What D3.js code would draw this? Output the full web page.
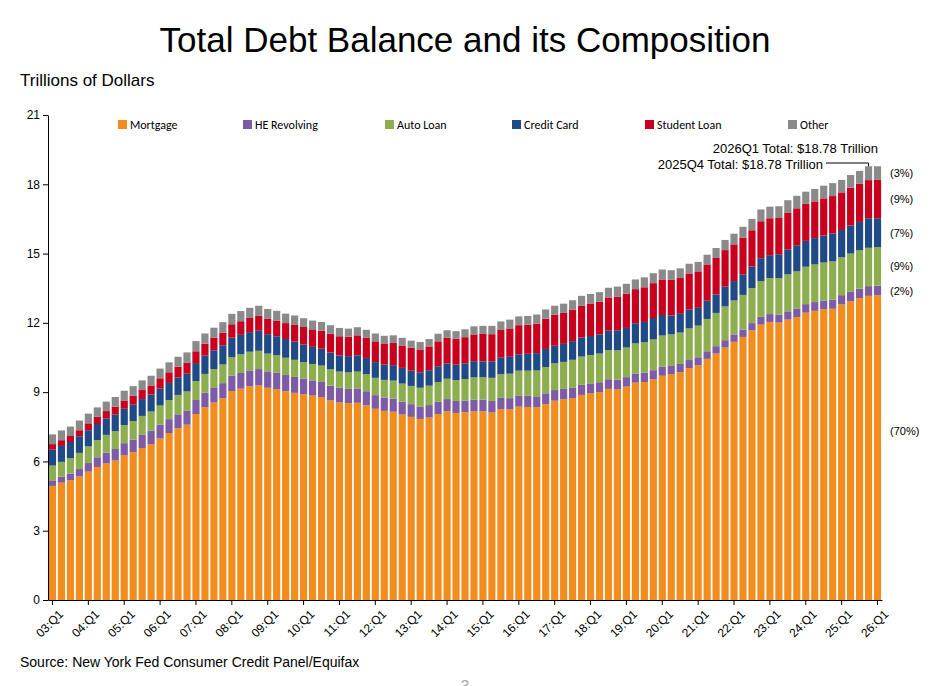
<!DOCTYPE html>
<html>
<head>
<meta charset="utf-8">
<script src="https://cdn.jsdelivr.net/npm/d3@7"></script>
<style>
  body { margin: 0; background: #fff; font-family: Arial, "Liberation Sans", sans-serif; }
</style>
</head>
<body>
<svg id="chart" width="935" height="686"></svg>
<script>
// Quarterly balances, trillions of dollars, 03:Q1 .. 26:Q1
const years = d3.range(2003, 2027);
const quarters = [];
years.forEach(y => [1, 2, 3, 4].forEach(q => { if (y < 2026 || q === 1) quarters.push(`${String(y).slice(2)}:Q${q}`); }));

const mortgage = [
  4.94,5.08,5.18,5.35, 5.56,5.76,5.91,6.04, 6.26,6.40,6.58,6.75, 6.99,7.23,7.44,7.59,
  8.05,8.35,8.55,8.74, 9.05,9.15,9.25,9.29, 9.19,9.13,9.04,8.97, 8.91,8.85,8.79,8.64,
  8.55,8.52,8.54,8.43, 8.28,8.19,8.15,8.03, 7.93,7.84,7.90,8.05, 8.17,8.10,8.13,8.17,
  8.17,8.12,8.26,8.25, 8.37,8.36,8.35,8.48, 8.63,8.69,8.74,8.88, 8.94,9.00,9.14,9.12,
  9.24,9.41,9.44,9.56, 9.71,9.78,9.86,10.04, 10.16,10.44,10.67,10.93, 11.18,11.39,11.67,11.92,
  12.04,12.01,12.14,12.25, 12.44,12.52,12.59,12.61, 12.80,12.94,13.07,13.17, 13.19];
const heRevolving = [
  .24,.26,.29,.32, .37,.42,.47,.50, .53,.55,.57,.59, .60,.60,.60,.60,
  .61,.62,.63,.65, .66,.68,.69,.71, .71,.71,.70,.69, .68,.66,.65,.64,
  .64,.62,.62,.61, .59,.58,.57,.56, .55,.54,.54,.53, .53,.52,.51,.51,
  .51,.50,.49,.49, .49,.48,.47,.47, .46,.45,.45,.44, .44,.43,.42,.42,
  .41,.40,.40,.39, .39,.38,.36,.35, .35,.33,.32,.32, .32,.32,.32,.34,
  .34,.35,.36,.37, .37,.38,.38,.39, .40,.40,.41,.42, .42];
const autoLoan = [
  .64,.64,.67,.70, .72,.74,.77,.77, .78,.79,.82,.82, .83,.83,.84,.84,
  .82,.82,.82,.81, .81,.81,.81,.79, .77,.76,.75,.74, .71,.71,.71,.71,
  .70,.72,.73,.74, .75,.76,.78,.78, .79,.81,.84,.86, .88,.90,.93,.96,
  .97,1.00,1.03,1.06, 1.07,1.09,1.12,1.14, 1.16,1.17,1.21,1.22, 1.23,1.24,1.26,1.27,
  1.28,1.30,1.32,1.33, 1.35,1.34,1.36,1.37, 1.37,1.40,1.44,1.46, 1.47,1.50,1.52,1.55,
  1.56,1.58,1.60,1.61, 1.62,1.63,1.64,1.66, 1.64,1.66,1.66,1.66, 1.67];
const creditCard = [
  .69,.69,.70,.72, .70,.70,.71,.72, .71,.72,.73,.74, .73,.74,.75,.77,
  .78,.79,.81,.83, .84,.84,.85,.87, .84,.82,.81,.79, .76,.74,.73,.73,
  .70,.70,.70,.70, .68,.67,.67,.68, .66,.67,.67,.68, .66,.67,.68,.70,
  .68,.70,.71,.73, .71,.73,.75,.78, .76,.78,.81,.83, .82,.83,.84,.87,
  .85,.87,.88,.93, .89,.82,.81,.82, .77,.79,.80,.86, .84,.89,.93,.99,
  .99,1.03,1.08,1.13, 1.12,1.14,1.17,1.21, 1.18,1.21,1.23,1.28, 1.25];
const studentLoan = [
  .24,.25,.26,.26, .30,.31,.32,.34, .36,.38,.39,.39, .45,.46,.47,.48,
  .51,.52,.54,.55, .58,.59,.61,.64, .66,.68,.69,.72, .76,.76,.78,.81,
  .83,.84,.87,.87, .90,.91,.96,.97, .99,.99,1.03,1.08, 1.11,1.12,1.13,1.16,
  1.19,1.19,1.20,1.23, 1.26,1.26,1.28,1.31, 1.34,1.34,1.36,1.38, 1.41,1.41,1.44,1.46,
  1.49,1.48,1.50,1.51, 1.54,1.54,1.55,1.56, 1.58,1.57,1.58,1.58, 1.59,1.59,1.57,1.60,
  1.60,1.57,1.60,1.60, 1.60,1.59,1.61,1.62, 1.63,1.64,1.65,1.65, 1.66];
const other = [
  .42,.42,.41,.42, .42,.41,.41,.42, .42,.42,.42,.42, .42,.43,.43,.44,
  .44,.44,.44,.45, .45,.44,.44,.44, .43,.42,.41,.41, .38,.38,.38,.37,
  .36,.35,.35,.35, .34,.33,.33,.33, .31,.32,.32,.33, .33,.33,.34,.35,
  .35,.36,.37,.38, .38,.38,.39,.40, .39,.40,.41,.42, .41,.42,.42,.43,
  .42,.42,.43,.43, .43,.42,.42,.42, .41,.42,.43,.44, .46,.47,.49,.51,
  .50,.51,.53,.54, .53,.54,.55,.56, .54,.55,.56,.60, .59];

const seriesNames = ["Mortgage", "HE Revolving", "Auto Loan", "Credit Card", "Student Loan", "Other"];
const seriesColors = ["#F28C1C", "#7D5BA6", "#8CAE4F", "#1F4A86", "#C8001E", "#8A8A8A"];
const shareLabels = ["(70%)", "(2%)", "(9%)", "(7%)", "(9%)", "(3%)"];
const yTicks = [0, 3, 6, 9, 12, 15, 18, 21];

const table = quarters.map((q, i) => ({
  q, Mortgage: mortgage[i], "HE Revolving": heRevolving[i], "Auto Loan": autoLoan[i],
  "Credit Card": creditCard[i], "Student Loan": studentLoan[i], Other: other[i]
}));

const svg = d3.select("#chart");
const margin = { left: 48, right: 53, top: 115, bottom: 86 };
const W = 935, H = 686;

const x = d3.scaleBand().domain(quarters).range([margin.left, W - margin.right]).paddingInner(0.2).paddingOuter(0.1);
const y = d3.scaleLinear().domain([0, 21]).range([H - margin.bottom, margin.top]);

const stack = d3.stack().keys(seriesNames)(table);

// Titles
svg.append("text").attr("x", 465).attr("y", 52).attr("text-anchor", "middle")
  .attr("font-size", 35).text("Total Debt Balance and its Composition");
svg.append("text").attr("x", 20).attr("y", 86).attr("font-size", 17).text("Trillions of Dollars");
svg.append("text").attr("x", 20).attr("y", 667).attr("font-size", 14).text("Source: New York Fed Consumer Credit Panel/Equifax");
svg.append("text").attr("x", 465).attr("y", 692).attr("text-anchor", "middle").attr("font-size", 16).attr("fill", "#aaa").text("3");

// Bars
svg.append("g").selectAll("g").data(stack).join("g")
  .attr("fill", (d, i) => seriesColors[i])
  .selectAll("rect").data(d => d).join("rect")
  .attr("x", d => x(d.data.q))
  .attr("width", x.bandwidth())
  .attr("y", d => y(d[1]))
  .attr("height", d => y(d[0]) - y(d[1]));

// Axes
const yAxis = svg.append("g").attr("transform", `translate(${margin.left},0)`)
  .call(d3.axisLeft(y).tickValues(yTicks).tickSize(5).tickSizeOuter(0));
yAxis.selectAll("text").attr("font-size", 12).attr("font-family", "Arial, sans-serif");

const xAxis = svg.append("g").attr("transform", `translate(0,${y(0)})`)
  .call(d3.axisBottom(x).tickValues(quarters.filter((q, i) => i % 4 === 0)).tickSize(5).tickSizeOuter(0));
xAxis.selectAll("text")
  .attr("font-size", 12).attr("font-family", "Arial, sans-serif")
  .attr("text-anchor", "end").attr("dx", "-0.2em").attr("dy", "0.9em")
  .attr("transform", "rotate(-45)");
svg.selectAll(".domain, .tick line").attr("stroke", "#000");

// Legend
const legendX = [118, 243, 385, 512, 645, 788];
const legend = svg.append("g").selectAll("g").data(seriesNames).join("g")
  .attr("transform", (d, i) => `translate(${legendX[i]},125)`);
legend.append("rect").attr("x", 0).attr("y", -5).attr("width", 9).attr("height", 9)
  .attr("fill", (d, i) => seriesColors[i]);
legend.append("text").attr("x", 12).attr("y", 4).attr("font-size", 12)
  .attr("font-family", "Calibri, Carlito, 'Liberation Sans', sans-serif").text(d => d);

// Totals annotations
const last = table.length - 1;
const tot = i => seriesNames.reduce((s, k) => s + table[i][k], 0);
svg.append("text").attr("x", 878).attr("y", 153).attr("text-anchor", "end").attr("font-size", 13)
  .text(`2026Q1 Total: $${tot(last).toFixed(2)} Trillion`);
svg.append("text").attr("x", 823).attr("y", 169).attr("text-anchor", "end").attr("font-size", 13)
  .text(`2025Q4 Total: $${tot(last - 1).toFixed(2)} Trillion`);
const prevX = x(quarters[last - 1]) + x.bandwidth() / 2;
svg.append("path").attr("fill", "none").attr("stroke", "#000").attr("stroke-width", 1)
  .attr("d", `M826,163 H${prevX} V${y(tot(last - 1))}`);

// Share labels, at the middle of each segment of the last bar
svg.append("g").selectAll("text").data(stack).join("text")
  .attr("x", 890)
  .attr("y", (d, i) => (i === 0 ? y(7.3) : y((d[last][0] + d[last][1]) / 2)) + 4)
  .attr("font-size", 11)
  .text((d, i) => shareLabels[i]);
</script>
</body>
</html>
